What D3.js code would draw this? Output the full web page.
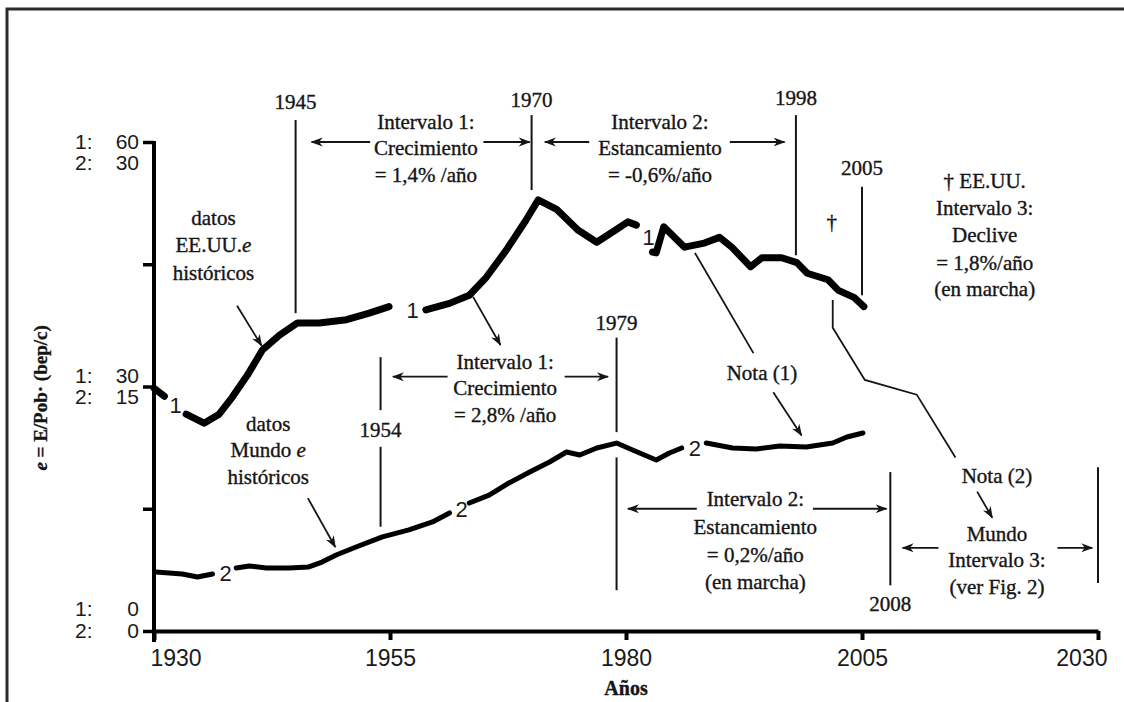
<!DOCTYPE html>
<html>
<head>
<meta charset="utf-8">
<title>e = E/Pob</title>
<style>
  body { margin: 0; background: #fff; }
  svg { display: block; }
  .serif { font-family: "Liberation Serif", "Times New Roman", serif; font-size: 21px; fill: #151515; stroke: #151515; stroke-width: 0.35; }
  .num { font-family: "Liberation Sans", Arial, sans-serif; fill: #1a1a1a; }
  .curve { fill: none; stroke: #000; stroke-linejoin: round; stroke-linecap: round; }
  .vline { stroke: #151515; stroke-width: 2; }
  .arrow { stroke: #151515; stroke-width: 1.8; fill: none; }
</style>
<script src="https://cdn.jsdelivr.net/npm/d3@7"></script>
</head>
<body>
<div id="chart"></div>
<script>
// series 1: EE.UU. (scale 0-60), series 2: Mundo (scale 0-30)
// null = break in the line where the "1" / "2" tag sits
var usYears  = [1930.0, 1931.1, 1932.3, 1933.4, 1935.3, 1936.9, 1938.3, 1939.9, 1941.5, 1943.3,
                1945.2, 1947.5, 1950.4, 1952.8, 1954.9, 1957.4, 1958.8, 1961.3, 1963.4, 1965.2,
                1967.3, 1969.4, 1970.7, 1972.7, 1974.9, 1976.9, 1978.9, 1980.2, 1981.1, 1982.0,
                1982.8, 1983.2, 1984.0, 1986.2, 1988.3, 1989.9, 1991.2, 1993.2, 1994.4, 1996.5,
                1998.1, 1999.2, 2001.4, 2002.5, 2004.2, 2005.2]
var usValues = [29.8, 28.8, null, 26.6, 25.5, 26.6, 28.7, 31.4, 34.5, 36.3,
                37.8, 37.8, 38.2, 39.0, 39.8, null, 39.4, 40.2, 41.2, 43.4,
                46.7, 50.4, 52.9, 51.7, 49.2, 47.7, 49.2, 50.2, 49.8, null,
                46.5, 46.4, 49.6, 47.1, 47.6, 48.3, 47.1, 44.7, 45.8, 45.8,
                45.2, 43.9, 43.1, 41.8, 40.9, 39.8]

var worldYears  = [1930.2, 1933.0, 1934.6, 1936.2, 1937.6, 1938.7, 1940.1, 1941.9, 1944.3, 1946.4,
                   1947.8, 1949.3, 1951.4, 1954.2, 1957.0, 1959.5, 1961.3, 1962.6, 1963.4, 1965.5,
                   1967.6, 1969.8, 1971.9, 1973.7, 1975.1, 1976.9, 1979.0, 1980.7, 1983.2, 1984.6,
                   1985.9, 1987.3, 1988.5, 1991.3, 1993.8, 1996.3, 1999.1, 2001.9, 2003.4, 2005.1]
var worldValues = [3.62, 3.50, 3.31, 3.50, null, 3.87, 3.99, 3.87, 3.87, 3.93,
                   4.23, 4.66, 5.15, 5.77, 6.20, 6.69, 7.24, null, 7.85, 8.34,
                   9.08, 9.75, 10.37, 10.98, 10.80, 11.23, 11.53, 11.10, 10.49, 10.92,
                   11.23, null, 11.53, 11.23, 11.17, 11.35, 11.29, 11.53, 11.90, 12.15]

// "1" / "2" tags on the curves
var usTagYears = [1932.3, 1957.4, 1982.4]
var usTagValues = [27.7, 39.4, 48.3]
var worldTagYears = [1937.6, 1962.6, 1987.3]
var worldTagValues = [3.56, 7.48, 11.23]

var xTicks = [1930, 1955, 1980, 2005, 2030]
var yTicks = [0, 15, 30, 45, 60]
var yLabelTicks = [60, 30, 0]

// vertical year markers: year, label (value on scale 1), line pieces
var markerYears  = [1945, 1970, 1998, 2005, 1954, 1979, 2008, 2030]
var markerLabelAt = [64.9, 65.2, 65.4, 56.8, 24.7, 37.8, 3.4, null]
var markerPieces = [
  [[62.7, 39.0]],
  [[63.3, 54.1]],
  [[63.3, 46.1]],
  [[54.5, 41.2]],
  [[33.6, 27.1], [22.6, 12.8]],
  [[36.0, 24.4], [21.3, 5.0]],
  [[19.5, 5.6]],
  [[20.1, 5.9]]
]

// interval arrows: value, from-year, to-year (head at "to")
var intervalArrows = [
  [60.0, 1952.9, 1946.7], [60.0, 1964.9, 1969.8],
  [60.0, 1976.1, 1971.4], [60.0, 1991.0, 1996.8],
  [31.2, 1961.1, 1955.3], [31.2, 1973.5, 1978.1],
  [15.0, 1987.5, 1980.2], [15.0, 1999.8, 2007.6],
  [10.2, 2013.1, 2009.3], [10.2, 2025.7, 2029.4]
]

// pointer arrows [from, to]
var pointers = [
  [[1938.8, 39.9], [1941.4, 35.0]],
  [[1946.3, 16.3], [1949.2, 10.3]],
  [[1963.8, 41.0], [1966.7, 35.1]],
  [[1995.6, 29.3], [1998.6, 24.0]],
  [[2017.2, 17.1], [2018.8, 13.9]]
]
var noteLines = [
  [[1987.3, 46.4], [1993.5, 34.1]],
  [[2001.9, 40.6], [2001.9, 37.2], [2005.3, 30.8], [2010.8, 29.0], [2014.9, 21.3]]
]

// text blocks, *x* = italic
var notes = [
  { year: 1958.8, at: [62.5, 59.3, 56.0], lines: ["Intervalo 1:", "Crecimiento", "= 1,4% /año"] },
  { year: 1983.6, at: [62.5, 59.3, 56.0], lines: ["Intervalo 2:", "Estancamiento", "= -0,6%/año"] },
  { year: 1967.2, at: [33.0, 29.8, 26.5], lines: ["Intervalo 1:", "Crecimiento", "= 2,8% /año"] },
  { year: 1993.7, at: [16.2, 12.8, 9.4, 6.1], lines: ["Intervalo 2:", "Estancamiento", "= 0,2%/año", "(en marcha)"] },
  { year: 2019.3, at: [19.1, 12.0, 8.7, 5.5], lines: ["Nota (2)", "Mundo", "Intervalo 3:", "(ver Fig. 2)"] },
  { year: 2018.0, at: [55.3, 51.9, 48.6, 45.2, 42.0], lines: ["† EE.UU.", "Intervalo 3:", "Declive", "= 1,8%/año", "(en marcha)"] },
  { year: 1936.3, at: [50.7, 47.4, 44.0], lines: ["datos", "EE.UU.*e*", "históricos"] },
  { year: 1942.1, at: [25.5, 22.2, 18.9], lines: ["datos", "Mundo *e*", "históricos"] },
  { year: 1994.4, at: [31.7], lines: ["Nota (1)"] },
  { year: 2001.8, at: [50.2], lines: ["†"] }
]

var width = 1124, height = 702

var x = d3.scaleLinear().domain([1930, 2030]).range([154, 1098])
var y1 = d3.scaleLinear().domain([0, 60]).range([631, 142])
var y2 = d3.scaleLinear().domain([0, 30]).range([631, 142])

var svg = d3.select("#chart").append("svg")
    .attr("width", width)
    .attr("height", height)

svg.append("rect").attr("width", width).attr("height", height).attr("fill", "#fff")

// scan frame (top and left edges)
svg.append("path")
  .attr("d", "M7,702 V9 H1124")
  .attr("fill", "none")
  .attr("stroke", "#2b2b2b")
  .attr("stroke-width", 3)

var defs = svg.append("defs")
defs.append("marker")
    .attr("id", "head")
    .attr("viewBox", "0 -5 12 10")
    .attr("refX", 11)
    .attr("refY", 0)
    .attr("markerWidth", 12)
    .attr("markerHeight", 10)
    .attr("markerUnits", "userSpaceOnUse")
    .attr("orient", "auto")
  .append("path")
    .attr("d", "M0,-4.5 L12,0 L0,4.5 L3.5,0 Z")
    .attr("fill", "#151515")

// axes
var xAxis = svg.append("g")
    .attr("transform", "translate(0," + y1(0) + ")")
    .call(d3.axisBottom(x).tickValues(xTicks).tickSize(9).tickSizeOuter(0).tickFormat(d3.format("d")))
xAxis.select(".domain").attr("stroke", "#000").attr("stroke-width", 4)
xAxis.selectAll(".tick line").attr("stroke", "#000").attr("stroke-width", 4)
xAxis.selectAll(".tick text")
    .attr("class", "num")
    .attr("y", 19)
    .attr("font-size", 23)
    .attr("font-family", null)
    .attr("fill", "#1a1a1a")
    .attr("text-anchor", function(d, i) { return i == 0 ? "start" : (i == xTicks.length - 1 ? "end" : "middle") })
    .attr("dx", function(d, i) { return i == 0 ? -4 : (i == xTicks.length - 1 ? 9 : 0) })

var yAxis = svg.append("g")
    .attr("transform", "translate(" + x(1930) + ",0)")
    .call(d3.axisLeft(y1).tickValues(yTicks).tickSize(11).tickSizeOuter(0).tickFormat(""))
yAxis.select(".domain").attr("stroke", "#000").attr("stroke-width", 4)
  .attr("d", "M0," + (y1(60) - 1) + "V" + (y1(0) + 11))
yAxis.selectAll(".tick line").attr("stroke", "#000").attr("stroke-width", 3.5)

// y labels "1: v" / "2: v/2"
var yLabelShift = { 60: [-1, 20], 30: [-11, 10], 0: [-23, -1] }
yLabelTicks.forEach(function(v) {
  var rows = [["1:", v], ["2:", v / 2]]
  rows.forEach(function(r, i) {
    var cy = y1(v) + yLabelShift[v][i]
    svg.append("text").attr("class", "num").attr("font-size", 21)
      .attr("x", 75).attr("y", cy).attr("dy", "0.36em").text(r[0])
    svg.append("text").attr("class", "num").attr("font-size", 21)
      .attr("x", 139).attr("y", cy).attr("dy", "0.36em").attr("text-anchor", "end").text(r[1])
  })
})

// axis titles
svg.append("text")
    .attr("class", "serif")
    .attr("x", x(1980))
    .attr("y", 688)
    .attr("dy", "0.35em")
    .attr("text-anchor", "middle")
    .attr("font-weight", "bold")
    .style("font-size", "20px")
    .text("Años")

var yt = svg.append("text")
    .attr("class", "serif")
    .attr("transform", "translate(40," + y1(28.6) + ") rotate(-90)")
    .attr("dy", "0.35em")
    .attr("text-anchor", "middle")
    .attr("font-weight", "bold")
    .style("font-size", "19px")
yt.append("tspan").attr("font-style", "italic").text("e")
yt.append("tspan").text(" = E/Pob· (bep/c)")

// vertical markers
markerYears.forEach(function(yr, i) {
  markerPieces[i].forEach(function(p) {
    svg.append("line").attr("class", "vline")
      .attr("x1", x(yr)).attr("x2", x(yr))
      .attr("y1", y1(p[0])).attr("y2", y1(p[1]))
  })
  if (markerLabelAt[i] != null) {
    svg.append("text").attr("class", "serif")
      .attr("x", x(yr)).attr("y", y1(markerLabelAt[i]))
      .attr("dy", "0.35em").attr("text-anchor", "middle")
      .text(yr)
  }
})

// interval arrows
svg.selectAll(".interval")
  .data(intervalArrows)
.enter().append("line")
  .attr("class", "arrow interval")
  .attr("x1", function(d) { return x(d[1]) })
  .attr("x2", function(d) { return x(d[2]) })
  .attr("y1", function(d) { return y1(d[0]) })
  .attr("y2", function(d) { return y1(d[0]) })
  .attr("marker-end", "url(#head)")

var pline = d3.line().x(function(d) { return x(d[0]) }).y(function(d) { return y1(d[1]) })

svg.selectAll(".pointer")
  .data(pointers)
.enter().append("path")
  .attr("class", "arrow pointer")
  .attr("d", pline)
  .attr("marker-end", "url(#head)")

svg.selectAll(".noteline")
  .data(noteLines)
.enter().append("path")
  .attr("class", "arrow noteline")
  .attr("d", pline)

// curves
var usData = usYears.map(function(d, i) { return [d, usValues[i]] })
var worldData = worldYears.map(function(d, i) { return [d, worldValues[i]] })

var line1 = d3.line()
  .defined(function(d) { return d[1] != null })
  .x(function(d) { return x(d[0]) })
  .y(function(d) { return y1(d[1]) })
var line2 = d3.line()
  .defined(function(d) { return d[1] != null })
  .x(function(d) { return x(d[0]) })
  .y(function(d) { return y2(d[1]) })

svg.append("path").attr("class", "curve").attr("stroke-width", 7).attr("d", line1(usData))
svg.append("path").attr("class", "curve").attr("stroke-width", 5).attr("d", line2(worldData))

usTagYears.forEach(function(yr, i) {
  svg.append("text").attr("class", "num").attr("font-size", 22)
    .attr("x", x(yr)).attr("y", y1(usTagValues[i]))
    .attr("dy", "0.36em").attr("text-anchor", "middle").text("1")
})
worldTagYears.forEach(function(yr, i) {
  svg.append("text").attr("class", "num").attr("font-size", 22)
    .attr("x", x(yr)).attr("y", y2(worldTagValues[i]))
    .attr("dy", "0.36em").attr("text-anchor", "middle").text("2")
})

// text notes
notes.forEach(function(n) {
  n.lines.forEach(function(s, i) {
    var t = svg.append("text").attr("class", "serif")
      .attr("x", x(n.year)).attr("y", y1(n.at[i]))
      .attr("dy", "0.35em").attr("text-anchor", "middle")
    s.split("*").forEach(function(part, j) {
      if (!part) return
      t.append("tspan").attr("font-style", j % 2 ? "italic" : null).text(part)
    })
  })
})
</script>
</body>
</html>
